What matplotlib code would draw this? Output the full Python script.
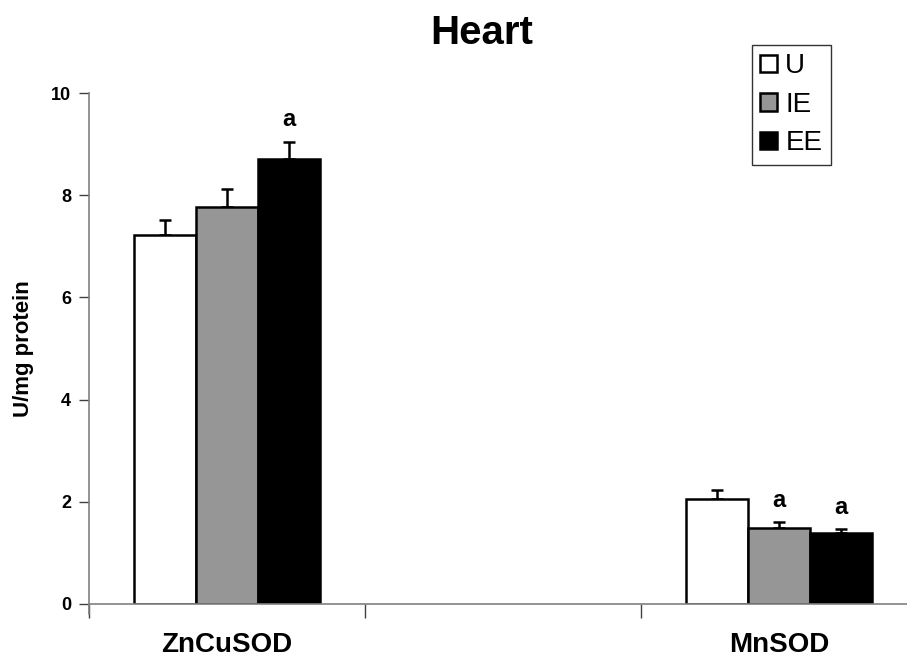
#!/usr/bin/env python3

# define necessary libraries
import matplotlib.pyplot as plt
import numpy as np

plt.rcParams['font.family'] = ['Liberation Sans', 'DejaVu Sans']

# data
categories = ['ZnCuSOD', '', 'MnSOD']
groups = ['U', 'IE', 'EE']
values = {
    'U':  [7.22, None, 2.05],
    'IE': [7.77, None, 1.48],
    'EE': [8.71, None, 1.39],
}
errors = {
    'U':  [0.30, None, 0.18],
    'IE': [0.35, None, 0.13],
    'EE': [0.34, None, 0.07],
}
# significance letters per group / category
letters = {
    'U':  ['', '', ''],
    'IE': ['', '', 'a'],
    'EE': ['a', '', 'a'],
}
colors = {'U': 'white', 'IE': '#969696', 'EE': 'black'}

fig = plt.figure(figsize=(9.07, 6.57), dpi=100)
# axis runs a bit past the right edge like the original
ax = fig.add_axes([89 / 907, 53 / 657, 828 / 907, 511 / 657])

width = 0.225
centers = np.arange(len(categories)) + 0.5
for i, g in enumerate(groups):
    idx = [k for k, v in enumerate(values[g]) if v is not None]
    xs = centers[idx] + (i - 1) * width
    ys = np.array([values[g][k] for k in idx])
    es = np.array([errors[g][k] for k in idx])
    ax.bar(xs, ys, width, color=colors[g], edgecolor='black',
           linewidth=1.8, label=g, zorder=2)
    ax.errorbar(xs, ys, yerr=[np.zeros_like(es), es], fmt='none',
                ecolor='black', elinewidth=1.8, capsize=4, capthick=1.8,
                zorder=1)
    for x, y, e, k in zip(xs, ys, es, idx):
        if letters[g][k]:
            ax.text(x, y + e + 0.2, letters[g][k], ha='center', va='bottom',
                    fontsize=17, fontweight='bold')

ax.set_xlim(0, 3)
ax.set_ylim(0, 10)
ax.set_yticks([0, 2, 4, 6, 8, 10])
ax.set_xticks([0, 1, 2, 3])
ax.set_xticklabels([])
ax.set_xticks(centers[[0, 2]], [categories[0], categories[2]], minor=True)
ax.tick_params(axis='x', which='minor', length=0, pad=20, labelsize=20)
ax.tick_params(axis='x', which='major', length=10, width=1, color='#404040')
ax.tick_params(axis='y', length=7, width=1, color='#404040', labelsize=13, pad=6)
for lab in ax.get_xticklabels(minor=True) + ax.get_yticklabels():
    lab.set_fontweight('bold')

for s in ['top', 'right']:
    ax.spines[s].set_visible(False)
for s in ['left', 'bottom']:
    ax.spines[s].set_color('#808080')
    ax.spines[s].set_linewidth(1.2)
ax.spines['left'].set_bounds(-0.2, 10)

ax.set_ylabel('U/mg protein', fontsize=16, fontweight='bold', labelpad=12)

fig.text(482 / 907, 1 - 33 / 657, 'Heart', ha='center', va='center',
         fontsize=29, fontweight='bold')

leg = ax.legend(loc='upper left', bbox_to_anchor=(752 / 907, 1 - 45 / 657),
                bbox_transform=fig.transFigure, fontsize=20, frameon=True,
                fancybox=False, edgecolor='black', handlelength=0.6,
                handleheight=0.6, handletextpad=0.3, labelspacing=0.45,
                borderpad=0.3, borderaxespad=0)
leg.get_frame().set_linewidth(1.0)

plt.savefig('out.png', dpi=100)
